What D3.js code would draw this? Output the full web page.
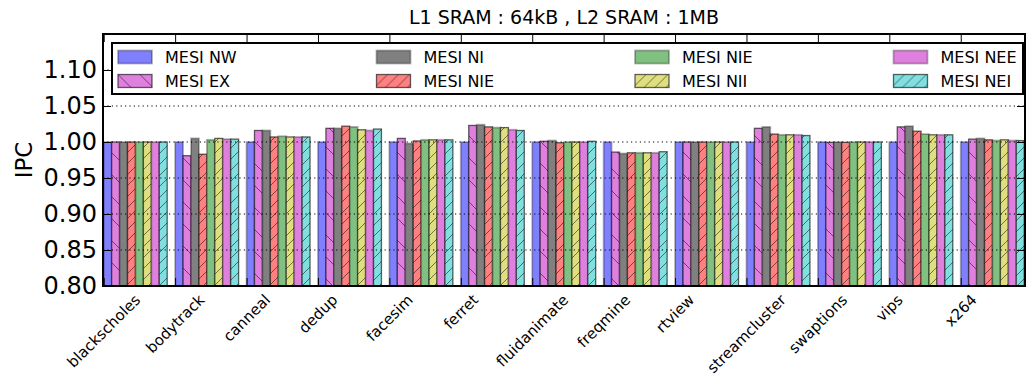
<!DOCTYPE html>
<html>
<head>
<meta charset="utf-8">
<script src="https://cdn.jsdelivr.net/npm/d3@7"></script>
<style>
    body { margin: 0; background: #fff; }
    svg text { font-family: "DejaVu Sans", sans-serif; }
</style>
</head>
<body>
<svg id="chart" width="1026" height="383"></svg>
<script>
var benchmarks = ["blackscholes", "bodytrack", "canneal", "dedup", "facesim", "ferret",
    "fluidanimate", "freqmine", "rtview", "streamcluster", "swaptions", "vips", "x264"];

var seriesNames = ["MESI NW", "MESI EX", "MESI NI", "MESI NIE", "MESI NIE", "MESI NII", "MESI NEE", "MESI NEI"];

var mesiNW  = [1.000, 1.000, 1.000, 1.000, 1.000, 1.000, 1.000, 1.000, 1.000, 1.000, 1.000, 1.000, 1.000];
var mesiEX  = [1.000, 0.981, 1.016, 1.019, 1.005, 1.023, 1.001, 0.986, 1.000, 1.019, 0.9995, 1.021, 1.004];
var mesiNI  = [1.000, 1.005, 1.016, 1.019, 0.998, 1.024, 1.002, 0.984, 1.000, 1.021, 1.000, 1.022, 1.005];
var mesiNIEr = [1.000, 0.983, 1.007, 1.022, 1.0015, 1.021, 0.999, 0.985, 1.000, 1.011, 0.9995, 1.015, 1.003];
var mesiNIEg = [1.000, 1.003, 1.008, 1.021, 1.003, 1.020, 1.000, 0.985, 1.000, 1.010, 1.000, 1.011, 1.002];
var mesiNII = [1.000, 1.005, 1.007, 1.017, 1.003, 1.020, 1.000, 0.985, 1.000, 1.010, 1.000, 1.010, 1.003];
var mesiNEE = [1.000, 1.004, 1.007, 1.016, 1.003, 1.017, 1.000, 0.985, 1.000, 1.010, 1.000, 1.010, 1.002];
var mesiNEI = [1.000, 1.004, 1.007, 1.018, 1.003, 1.016, 1.001, 0.9865, 1.000, 1.009, 1.000, 1.010, 1.002];

var yTicks = [0.80, 0.85, 0.90, 0.95, 1.00, 1.05, 1.10];

var seriesValues = [mesiNW, mesiEX, mesiNI, mesiNIEr, mesiNIEg, mesiNII, mesiNEE, mesiNEI];
var fills   = ["#8080ff", "#df80df", "#808080", "#ff8080", "#80c080", "#dfdf80", "#df80df", "#80dfdf"];
var hatches = [null, "back", null, "fwd", null, "fwd", null, "fwd"];

var margin = {top: 34, right: 1, bottom: 97, left: 103},
    width = 1026 - margin.left - margin.right,
    height = 383 - margin.top - margin.bottom;

var svg = d3.select("#chart");

// patterns for hatching
var defs = svg.append("defs");
defs.append("pattern")
    .attr("id", "fwd")
    .attr("patternUnits", "userSpaceOnUse")
    .attr("width", 11).attr("height", 11)
    .append("path")
    .attr("d", "M-1,1 L1,-1 M0,11 L11,0 M10,12 L12,10")
    .attr("stroke", "rgba(0,0,0,0.55)")
    .attr("stroke-width", 0.9);
defs.append("pattern")
    .attr("id", "back")
    .attr("patternUnits", "userSpaceOnUse")
    .attr("width", 22).attr("height", 22)
    .append("path")
    .attr("d", "M-1,21 L1,23 M0,0 L22,22 M21,-1 L23,1")
    .attr("stroke", "rgba(0,0,0,0.55)")
    .attr("stroke-width", 0.9);

var g = svg.append("g")
    .attr("transform", "translate(" + margin.left + "," + margin.top + ")");

var x = d3.scaleLinear()
    .domain([-0.01, 12.9])
    .range([0, width]);

var y = d3.scaleLinear()
    .domain([0.80, 1.15])
    .range([height, 0]);

var barW = (x(1) - x(0)) / 9;

// bars
seriesValues.forEach(function(vals, s) {
    var bars = g.append("g").attr("class", "series");
    bars.selectAll("rect.fill")
        .data(vals)
        .enter().append("rect")
        .attr("class", "fill")
        .attr("x", function(d, i) { return x(i) + s * barW; })
        .attr("y", function(d) { return y(d); })
        .attr("width", barW)
        .attr("height", function(d) { return y(0.80) - y(d); })
        .attr("fill", fills[s])
        .attr("stroke", hatches[s] ? "rgba(0,0,0,0.6)" : "rgba(0,0,0,0.3)")
        .attr("stroke-width", hatches[s] ? 1.3 : 1.8);
    if (hatches[s]) {
        bars.selectAll("rect.hatch")
            .data(vals)
            .enter().append("rect")
            .attr("class", "hatch")
            .attr("x", function(d, i) { return x(i) + s * barW; })
            .attr("y", function(d) { return y(d); })
            .attr("width", barW)
            .attr("height", function(d) { return y(0.80) - y(d); })
            .attr("fill", "url(#" + hatches[s] + ")");
    }
});

// dotted grid
g.selectAll(".grid")
    .data(yTicks.slice(1))
    .enter().append("line")
    .attr("class", "grid")
    .attr("x1", 0).attr("x2", width)
    .attr("y1", function(d) { return y(d); })
    .attr("y2", function(d) { return y(d); })
    .attr("stroke", "#000")
    .attr("stroke-width", 1.2)
    .attr("stroke-dasharray", "1.2,3.2");

// axes, ticks pointing inward
var yAxis = d3.axisLeft(y).tickValues(yTicks).tickSize(-8).tickPadding(6)
    .tickFormat(d3.format(".2f"));
var yAxisR = d3.axisRight(y).tickValues(yTicks).tickSize(-8).tickFormat("");
var xAxisT = d3.axisTop(x).tickValues(d3.range(13)).tickSize(-8).tickFormat("");
var xAxisB = d3.axisBottom(x).tickValues(d3.range(13)).tickSize(-8).tickFormat("");

g.append("g").attr("class", "y axis").call(yAxis);
g.append("g").attr("class", "y axis").attr("transform", "translate(" + width + ",0)").call(yAxisR);
g.append("g").attr("class", "x axis").call(xAxisT);
g.append("g").attr("class", "x axis").attr("transform", "translate(0," + height + ")").call(xAxisB);

g.selectAll(".axis .domain").remove();
g.selectAll(".axis line").attr("stroke", "#000").attr("stroke-width", 1);
g.selectAll(".y.axis text")
    .style("font-size", "24px")
    .attr("fill", "#000");

// bottom labels at 45 degrees, centred under the tick like matplotlib
var labFont = 15;
var c45 = Math.SQRT1_2;
g.append("g").attr("class", "xlabels")
    .selectAll("text")
    .data(benchmarks)
    .enter().append("text")
    .attr("text-anchor", "middle")
    .attr("dy", "0.35em")
    .style("font-size", labFont + "px")
    .text(function(d) { return d; })
    .attr("transform", function(d, i) {
        var L = this.getComputedTextLength();
        var cy = height + 5 + (L + labFont * 1.16) * c45 / 2;
        return "matrix(" + [c45, -c45, c45, c45, x(i), cy].join(",") + ")";
    });

// frame
g.append("rect")
    .attr("width", width)
    .attr("height", height)
    .attr("fill", "none")
    .attr("stroke", "#000")
    .attr("stroke-width", 2);

// title
svg.append("text")
    .attr("x", margin.left + width / 2)
    .attr("y", 24)
    .attr("text-anchor", "middle")
    .style("font-size", "19px")
    .text("L1 SRAM : 64kB , L2 SRAM : 1MB");

// y label
svg.append("text")
    .attr("transform", "translate(32," + (margin.top + y(0.975)) + ") rotate(-90)")
    .attr("text-anchor", "middle")
    .style("font-size", "23px")
    .text("IPC");

// legend
var legend = svg.append("g").attr("class", "legend");
legend.append("rect")
    .attr("x", 112).attr("y", 43)
    .attr("width", 911).attr("height", 51)
    .attr("fill", "#fff")
    .attr("stroke", "#000")
    .attr("stroke-width", 2);

var items = legend.selectAll("g.item")
    .data(seriesNames)
    .enter().append("g")
    .attr("class", "item")
    .attr("transform", function(d, i) {
        var col = Math.floor(i / 2), row = i % 2;
        return "translate(" + (118 + col * 258.5) + "," + (50.5 + row * 24) + ")";
    });

items.append("rect")
    .attr("width", 34).attr("height", 13)
    .attr("fill", function(d, i) { return fills[i]; })
    .attr("stroke", function(d, i) { return hatches[i] ? "rgba(0,0,0,0.6)" : "rgba(0,0,0,0.3)"; })
    .attr("stroke-width", function(d, i) { return hatches[i] ? 1.3 : 1.8; });
items.each(function(d, i) {
    if (!hatches[i]) return;
    d3.select(this).append("rect")
        .attr("width", 34).attr("height", 13)
        .attr("fill", "url(#" + hatches[i] + ")");
});

items.append("text")
    .attr("x", 47)
    .attr("y", 6.5)
    .attr("dy", "0.35em")
    .style("font-size", "16px")
    .text(function(d) { return d; });
</script>
</body>
</html>
